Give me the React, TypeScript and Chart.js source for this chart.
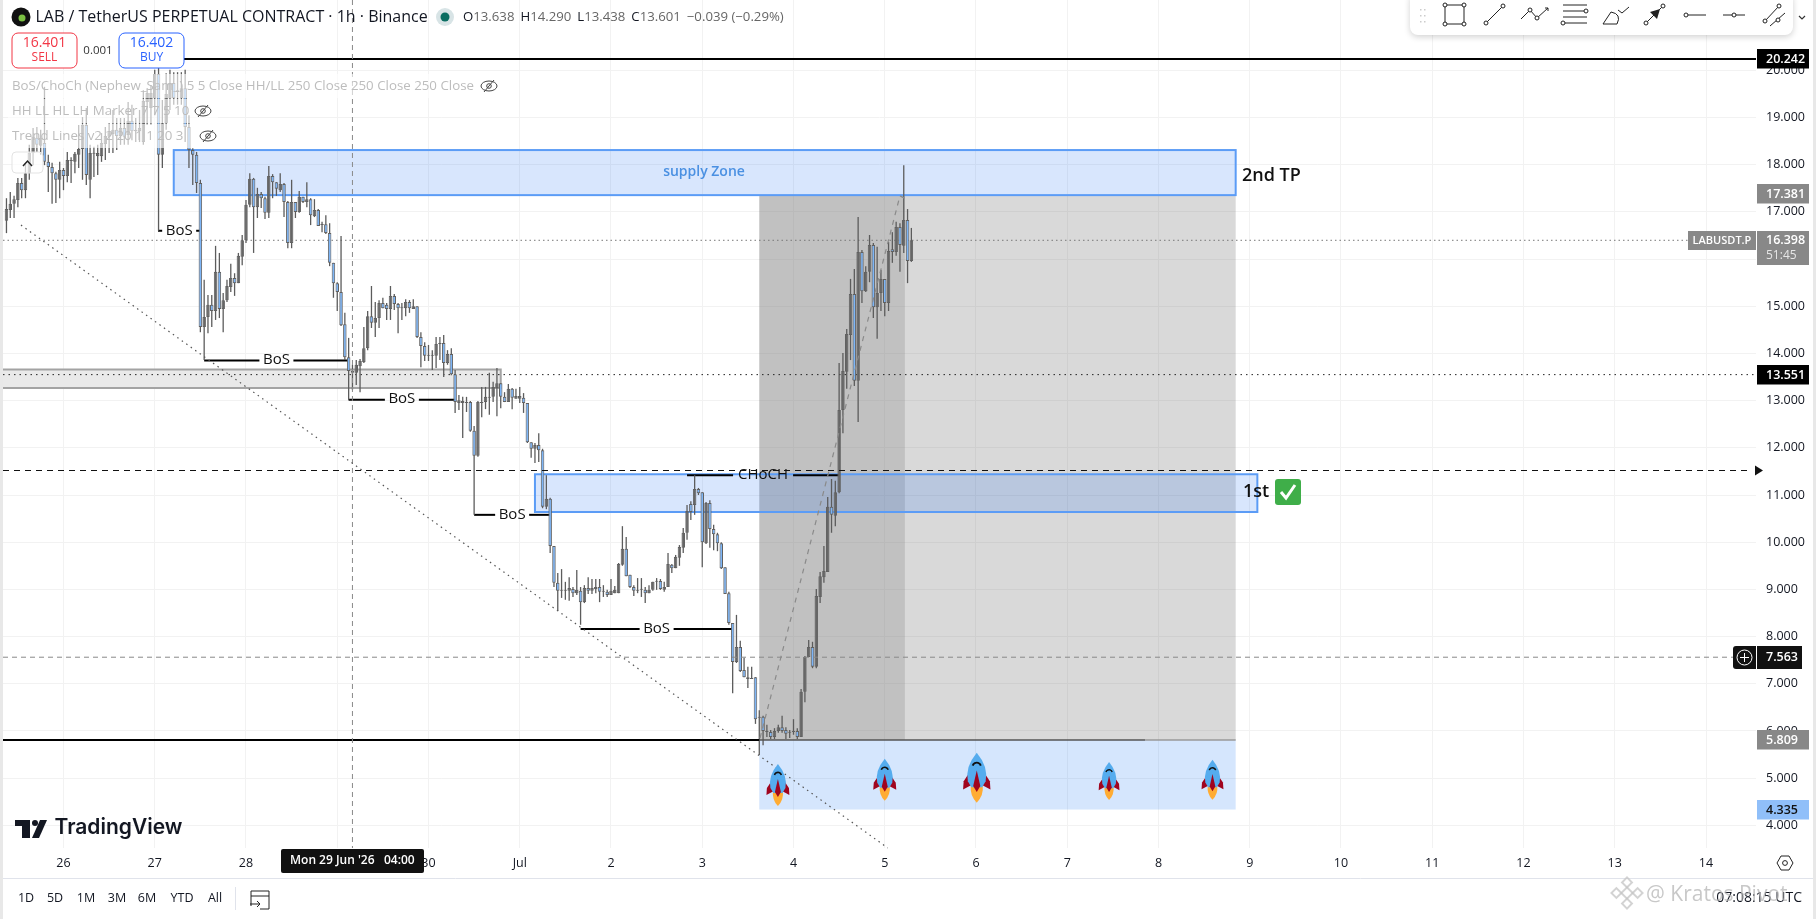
import React, { useEffect, useRef } from "react";
import { Chart, registerables } from "chart.js";

Chart.register(...registerables);

// hourly candles, first hour = 15 h before 26 Jun 00:00
const firstHour = -15;
const opens = [
16.81,17.04,17.17,17.25,17.61,17.46,17.82,18.25,18.57,18.40,
18.46,18.06,17.95,17.82,17.68,17.89,17.76,18.08,18.06,18.21,
18.33,18.84,17.68,18.23,18.18,18.18,18.44,18.59,18.65,18.74,
18.61,18.78,18.63,18.93,18.71,18.71,18.48,19.33,19.20,19.41,
19.92,18.21,18.88,19.41,19.73,19.54,19.41,19.62,18.80,18.31,
18.21,17.61,14.56,14.77,15.03,14.90,15.73,14.94,15.13,15.41,
15.60,15.49,16.05,16.40,17.15,17.70,17.10,17.38,17.29,16.98,
17.76,17.63,17.46,17.59,17.21,16.34,17.21,17.00,17.32,17.21,
17.27,16.91,17.04,16.72,16.74,16.55,15.92,15.49,15.30,14.62,
13.92,13.59,13.59,13.73,13.82,14.11,14.79,14.65,14.75,15.07,
15.03,14.94,15.22,15.05,14.96,14.96,15.09,14.94,15.00,14.35,
14.16,13.95,13.95,13.95,14.20,14.22,13.80,13.99,13.56,12.95,
12.99,12.95,12.97,12.36,11.83,12.95,12.97,13.06,13.08,13.27,
13.37,13.08,12.97,13.25,13.04,13.04,13.06,12.95,12.12,11.98,
12.06,11.95,10.75,10.92,9.92,9.14,8.97,8.97,8.97,9.01,
8.92,8.97,8.73,9.03,8.97,9.01,9.05,8.95,8.95,8.88,
8.92,8.92,9.52,9.86,9.31,9.05,8.97,8.99,8.99,8.92,
8.99,9.16,9.18,8.99,9.05,9.52,9.45,9.67,9.88,10.20,
10.81,10.79,11.13,11.06,9.98,10.83,10.28,10.17,9.98,9.47,
8.92,8.29,7.46,7.78,7.29,7.14,7.10,7.14,6.28,6.30,
5.98,5.98,5.87,6.00,6.08,6.02,5.96,5.98,6.00,5.87,
6.83,7.57,7.78,7.36,8.84,9.26,9.37,10.75,10.56,11.06,
12.80,13.61,14.39,15.26,13.42,16.15,15.32,15.73,16.30,14.98,
15.28,15.58,15.07,16.21,16.15,16.68,16.28,16.83,15.96];
const highs = [
17.29,17.42,17.34,17.72,17.72,18.04,18.42,18.78,18.80,18.74,
19.65,18.21,18.04,17.85,18.06,17.93,18.27,18.16,18.27,18.84,
19.01,19.20,18.42,18.38,18.42,18.67,18.80,18.88,19.16,18.99,
18.99,18.99,19.33,19.27,18.99,19.16,19.58,19.62,19.69,20.01,
20.05,19.37,19.94,20.01,19.96,19.96,19.96,20.01,19.05,18.35,
18.27,17.68,15.56,15.24,15.24,16.28,16.13,15.28,15.56,15.90,
15.70,16.13,16.51,17.25,17.82,17.72,17.51,17.42,17.32,17.97,
17.80,17.63,17.82,17.61,17.23,17.68,17.21,17.44,17.32,17.63,
17.29,17.27,17.06,16.79,16.93,16.76,15.92,15.51,16.49,14.86,
14.33,13.76,13.86,13.88,14.56,14.90,15.43,15.09,15.13,15.18,
15.07,15.43,15.26,15.07,15.07,15.15,15.13,15.15,15.00,14.45,
14.24,14.18,14.07,14.35,14.35,14.39,14.07,14.11,13.65,13.12,
13.08,13.08,12.99,12.46,12.99,13.29,13.29,13.59,13.40,13.69,
13.37,13.18,13.35,13.27,13.25,13.29,13.16,12.95,12.12,12.10,
12.31,11.98,11.42,10.94,9.92,9.35,9.43,9.16,9.26,9.05,
9.41,9.05,9.09,9.26,9.22,9.22,9.22,9.09,8.99,9.22,
9.07,9.56,10.34,10.11,9.31,9.09,9.24,9.24,9.05,9.09,
9.16,9.24,9.22,9.16,9.77,9.54,9.73,9.94,10.30,10.79,
10.87,11.42,11.15,11.06,10.85,10.89,10.37,10.20,10.00,9.47,
8.95,8.29,8.46,7.91,7.55,7.36,7.36,7.14,6.44,6.32,
6.13,6.02,6.06,6.13,6.32,6.08,6.02,6.25,6.06,6.89,
7.59,7.93,7.89,9.01,9.37,9.92,10.96,11.34,11.30,13.80,
14.01,14.52,15.58,15.79,16.89,16.19,15.85,16.51,16.34,16.26,
15.77,15.58,16.36,16.57,16.79,16.76,17.99,17.06,16.66];
const lows = [
16.55,16.87,16.87,17.10,17.29,17.29,17.68,17.99,18.27,18.21,
17.99,17.42,17.17,17.19,17.29,17.46,17.63,17.61,17.82,17.93,
17.68,17.57,17.29,17.74,17.78,18.06,18.10,18.25,18.25,18.31,
18.42,18.42,18.42,18.52,18.48,18.48,18.42,18.84,18.84,19.05,
16.60,17.93,18.74,19.16,19.27,19.27,19.27,18.48,17.93,17.57,
17.40,14.45,13.86,14.43,14.56,14.71,14.75,14.45,15.09,15.30,
15.22,15.49,15.87,16.34,17.10,16.13,16.87,17.08,16.85,16.87,
17.29,17.34,17.42,16.89,16.23,16.23,16.87,16.98,17.19,17.10,
16.72,16.89,16.70,16.57,16.53,15.85,15.18,14.90,14.58,13.86,
13.01,13.23,13.33,13.18,13.80,14.07,14.54,14.35,14.54,14.96,
14.71,14.71,14.92,14.43,14.71,14.79,14.86,14.94,14.33,13.71,
13.84,13.84,13.65,13.69,13.86,13.50,13.76,13.54,12.74,12.80,
12.21,12.76,12.34,10.58,11.81,12.65,12.82,12.70,12.97,12.67,
12.84,12.97,12.97,12.82,13.04,12.95,12.74,12.10,11.79,11.68,
11.70,10.72,10.70,9.77,9.05,8.54,8.82,8.78,8.76,8.84,
8.88,8.25,8.71,8.90,8.90,8.92,8.73,8.84,8.84,8.88,
8.92,8.92,9.50,9.28,9.03,8.86,8.92,8.84,8.71,8.92,
8.97,8.99,8.99,8.95,9.05,9.35,9.45,9.50,9.77,10.05,
10.47,10.58,11.00,9.47,9.96,9.88,9.83,9.81,9.43,8.90,
8.25,6.80,7.44,7.25,7.14,6.91,7.10,6.15,5.49,5.70,
5.87,5.83,5.83,5.96,5.96,5.83,5.85,5.92,5.83,5.87,
6.61,7.57,7.33,7.33,8.71,9.14,9.37,10.20,10.34,11.04,
12.31,13.25,13.86,13.31,12.55,15.07,15.30,15.51,14.75,14.31,
14.90,14.79,14.90,15.92,16.07,15.73,16.13,15.49,15.94];
const closes = [
17.06,17.17,17.27,17.61,17.46,17.82,18.25,18.59,18.42,18.57,
18.06,17.95,17.82,17.68,17.89,17.76,18.10,18.10,18.23,18.33,
18.84,17.78,18.25,18.25,18.25,18.46,18.61,18.69,18.74,18.61,
18.78,18.59,18.93,18.71,18.74,18.78,19.35,19.52,19.52,19.92,
18.21,18.88,19.50,19.73,19.41,19.58,19.62,18.80,18.31,18.21,
17.61,14.56,14.77,15.03,14.90,15.73,14.94,15.13,15.43,15.60,
15.49,16.07,16.40,17.15,17.70,17.10,17.38,17.29,16.98,17.76,
17.63,17.49,17.59,17.21,16.34,17.21,17.00,17.32,17.21,17.27,
16.93,17.04,16.70,16.74,16.55,15.92,15.49,15.30,14.60,13.92,
13.63,13.63,13.76,13.84,14.11,14.79,14.65,14.75,15.07,14.96,
14.94,15.22,15.05,14.96,14.98,15.09,14.96,15.00,14.35,14.16,
13.95,13.97,13.97,14.20,14.22,13.80,13.99,13.56,12.97,13.01,
12.95,12.97,12.36,11.83,12.97,12.97,13.08,13.08,13.29,13.37,
13.08,12.97,13.25,13.06,13.10,13.10,12.95,12.12,11.98,12.06,
11.95,10.75,10.92,9.92,9.14,8.97,8.99,8.99,9.03,8.92,
8.99,8.73,9.03,8.97,9.03,9.05,8.95,8.97,8.88,8.97,
8.99,9.54,9.86,9.28,9.05,8.97,8.99,9.01,8.92,8.99,
9.16,9.18,9.01,9.05,9.54,9.45,9.69,9.90,10.20,10.66,
10.64,11.13,11.04,10.00,10.83,10.28,10.17,9.98,9.45,8.90,
8.29,7.46,7.78,7.27,7.14,7.10,7.12,6.25,6.30,6.00,
6.00,5.87,6.00,6.08,6.00,5.94,5.98,6.00,5.87,6.83,
7.57,7.78,7.36,8.86,9.28,9.39,10.75,10.58,11.06,12.80,
13.63,14.41,15.26,13.42,16.15,15.32,15.73,16.30,14.98,15.28,
15.58,15.07,16.17,16.15,16.68,16.30,16.83,15.96,16.40];

const priceTicks = [4,5,6,7,8,9,10,11,12,13,14,15,16,17,18,19,20];
const dayHours = [0,24,48,72,96,120,144,168,192,216,240,264,288,312,336,360,384,408,432];
const dayLabels = ["26","27","28","29","30","Jul","2","3","4","5","6","7","8","9","10","11","12","13","14"];

const priceLines = { top: 20.242, support: 5.809, mid: 13.551, dashed: 11.52, cursor: 7.563, last: 16.398 };
const supplyZone = { h1: 29, h2: 308.3, v1: 18.31, v2: 17.355 };
const firstTpZone = { h1: 124, h2: 314, v1: 11.44, v2: 10.64 };
const greyBand = { h2: 115, v1: 13.66, v2: 13.27 };
const position = { h1: 183, hMid: 221.3, h2: 308.3, stop: 4.335, entry: 5.809, target: 17.355 };
const bosLines = [
  { h1: 24.85, h2: 36, v: 16.6, text: "BoS" },
  { h1: 37, h2: 75, v: 13.85, text: "BoS" },
  { h1: 75, h2: 103, v: 13.02, text: "BoS" },
  { h1: 108, h2: 128, v: 10.58, text: "BoS" },
  { h1: 136, h2: 176, v: 8.16, text: "BoS" },
  { h1: 164, h2: 204, v: 11.42, text: "CHoCH" },
];
const trendLine = [[-11.18, 16.72], [216.8, 3.52]];
const tradePath = [[183.2, 5.85], [220, 17.34], [222.2, 17.25]];
const crosshairHour = 76;
const rockets = [
  { h: 187.9, v: 5.30, size: 42 }, { h: 216, v: 5.41, size: 42 }, { h: 240.2, v: 5.54, size: 50 },
  { h: 275, v: 5.34, size: 38 }, { h: 302.2, v: 5.39, size: 40 },
];

const UI = "'Open Sans', sans-serif";
const BLUE_LINE = "#5b9cf6";

function txt(c: any, s: string, x: number, y: number, font: string, color: string, align: any = "left") {
  c.font = font; c.fillStyle = color; c.textAlign = align; c.textBaseline = "middle"; c.fillText(s, x, y);
}
function rr(c: any, x: number, y: number, w: number, h: number, r: any) {
  c.beginPath(); c.roundRect(x, y, w, h, r);
}
function seg(c: any, pts: number[][], color: string, w: number, dash: number[] = []) {
  c.save(); c.strokeStyle = color; c.lineWidth = w; c.setLineDash(dash); c.beginPath();
  pts.forEach((p, i) => (i ? c.lineTo(p[0], p[1]) : c.moveTo(p[0], p[1]))); c.stroke(); c.restore();
}
function rocket(c: any, x: number, y: number, H: number) {
  const u = H / 42; c.save(); c.translate(x, y); c.scale(u, u);
  c.fillStyle = "#ffac33"; c.beginPath(); c.moveTo(-5, 27); c.quadraticCurveTo(-6, 36, 0, 42); c.quadraticCurveTo(6, 36, 5, 27); c.fill();
  c.fillStyle = "#a0041e";
  c.beginPath(); c.moveTo(-7, 18); c.lineTo(-11, 24); c.lineTo(-11.5, 31); c.lineTo(-4, 27); c.fill();
  c.beginPath(); c.moveTo(7, 18); c.lineTo(11, 24); c.lineTo(11.5, 31); c.lineTo(4, 27); c.fill();
  c.fillStyle = "#55acee"; c.beginPath(); c.moveTo(0, 0); c.quadraticCurveTo(-10, 12, -7.5, 24); c.lineTo(-4.5, 29); c.lineTo(4.5, 29); c.lineTo(7.5, 24); c.quadraticCurveTo(10, 12, 0, 0); c.fill();
  c.fillStyle = "#a0041e"; c.beginPath(); c.moveTo(0, 15); c.lineTo(-3, 28); c.lineTo(0, 33); c.lineTo(3, 28); c.fill();
  c.strokeStyle = "#111"; c.lineWidth = 1.6; c.beginPath(); c.arc(0, 12, 3.6, Math.PI * 1.1, Math.PI * 1.9); c.stroke();
  c.restore();
}
function eye(c: any, x: number, y: number) {
  c.save(); c.strokeStyle = "#444"; c.lineWidth = 1; c.beginPath(); c.ellipse(x, y, 8, 5, 0, 0, Math.PI * 2); c.stroke();
  c.beginPath(); c.arc(x, y, 2.3, 0, Math.PI * 2); c.stroke();
  c.beginPath(); c.moveTo(x - 5, y + 6); c.lineTo(x + 5, y - 6); c.stroke(); c.restore();
}
function handle(c: any, x: number, y: number) {
  c.beginPath(); c.arc(x, y, 2, 0, Math.PI * 2); c.fillStyle = "#fff"; c.fill(); c.stroke();
}

const backdrop = {
  id: "backdrop",
  beforeDraw(chart: any) {
    const c = chart.ctx; c.save(); c.fillStyle = "#fff"; c.fillRect(0, 0, 1816, 919);
    c.fillStyle = "#e8e8e8"; c.fillRect(0, 0, 3, 919); c.fillRect(1813, 0, 3, 919); c.restore();
  },
};

const zones = {
  id: "zones",
  beforeDatasetsDraw(chart: any) {
    const c = chart.ctx, X = chart.scales.x, Y = chart.scales.y; const a = chart.chartArea;
    const x = (h: number) => X.getPixelForValue(h), y = (v: number) => Y.getPixelForValue(v);
    c.save();
    // grey consolidation band
    c.fillStyle = "#e9e9e9"; c.fillRect(a.left, y(greyBand.v1), x(greyBand.h2) - a.left, y(greyBand.v2) - y(greyBand.v1));
    c.strokeStyle = "#a3a3a3"; c.lineWidth = 2;
    c.beginPath(); c.moveTo(a.left, y(greyBand.v1)); c.lineTo(x(greyBand.h2), y(greyBand.v1)); c.lineTo(x(greyBand.h2), y(greyBand.v2)); c.lineTo(a.left, y(greyBand.v2)); c.stroke();
    // position boxes
    c.fillStyle = "rgba(120,120,120,0.46)"; c.fillRect(x(position.h1), y(position.target), x(position.hMid) - x(position.h1), y(position.entry) - y(position.target));
    c.fillStyle = "rgba(120,120,120,0.28)"; c.fillRect(x(position.hMid), y(position.target), x(position.h2) - x(position.hMid), y(position.entry) - y(position.target));
    c.fillStyle = "rgba(45,130,245,0.2)"; c.fillRect(x(position.h1), y(position.entry), x(position.h2) - x(position.h1), y(position.stop) - y(position.entry));
    // blue zones
    for (const z of [supplyZone, firstTpZone]) {
      c.fillStyle = "rgba(40,115,245,0.18)"; c.fillRect(x(z.h1), y(z.v1), x(z.h2) - x(z.h1), y(z.v2) - y(z.v1));
      c.strokeStyle = BLUE_LINE; c.lineWidth = 2; c.strokeRect(x(z.h1), y(z.v1), x(z.h2) - x(z.h1), y(z.v2) - y(z.v1));
    }
    // BoS markers
    for (const b of bosLines) {
      const x1 = x(b.h1), x2 = x(b.h2), py = y(b.v), mid = (x1 + x2) / 2, gap = b.text === "BoS" ? 17 : 30;
      seg(c, [[x1, py], [mid - gap, py]], "#000", 2); seg(c, [[mid + gap, py], [x2, py]], "#000", 2);
      c.save(); c.beginPath(); c.rect(mid - 40, py - 14, 80, b.text === "BoS" ? 28 : 19); c.clip();
      txt(c, b.text, mid, py - 0.5, "15px " + UI, "#111", "center"); c.restore();
    }
    // lines beneath candles
    seg(c, [[a.left, y(priceLines.mid)], [a.right, y(priceLines.mid)]], "#222", 1, [1.5, 4]);
    seg(c, [[a.left, y(priceLines.last)], [1688, y(priceLines.last)]], "#777", 1, [1.5, 3]);
    c.restore();
  },
  afterDatasetsDraw(chart: any) {
    const c = chart.ctx, X = chart.scales.x, Y = chart.scales.y; const a = chart.chartArea;
    const x = (h: number) => X.getPixelForValue(h), y = (v: number) => Y.getPixelForValue(v);
    c.save();
    // price lines
    seg(c, [[184, y(priceLines.top)], [a.right, y(priceLines.top)]], "#000", 2);
    seg(c, [[a.left, y(priceLines.support)], [x(position.h1), y(priceLines.support)]], "#000", 2);
    seg(c, [[x(position.h1), y(priceLines.support)], [1145, y(priceLines.support)]], "#555", 1.5);
    seg(c, [[1145, y(priceLines.support)], [x(position.h2), y(priceLines.support)]], "#999", 1.5);
    seg(c, [[a.left, y(priceLines.dashed)], [1752, y(priceLines.dashed)]], "#111", 1.2, [6, 5]);
    seg(c, [[a.left, y(priceLines.cursor)], [1733, y(priceLines.cursor)]], "#888", 1, [5, 4]);
    seg(c, [[x(crosshairHour), 0], [x(crosshairHour), a.bottom]], "#888", 1, [5, 4]);
    seg(c, trendLine.map((p) => [x(p[0]), y(p[1])]), "#555", 1.2, [1.5, 4]);
    seg(c, tradePath.map((p) => [x(p[0]), y(p[1])]), "#8a8a8a", 1.2, [5, 5]);
    // rockets
    rockets.forEach((r) => rocket(c, x(r.h), y(r.v), r.size));
    // zone annotations
    txt(c, "supply Zone", 704, 172, "600 14px " + UI, "#4a90e2", "center");
    txt(c, "2nd TP", 1242, 176, "600 18px " + UI, "#111");
    txt(c, "1st", 1243, 492, "600 18px " + UI, "#111");
    c.fillStyle = "#3fae49"; rr(c, 1275, 479, 26, 26, 3); c.fill();
    seg(c, [[1281, 492], [1286, 498], [1295, 485]], "#fff", 3);

    // faded legend rows
    c.fillStyle = "rgba(255,255,255,0.62)";
    c.fillRect(8, 74, 497, 24); c.fillRect(8, 99, 210, 24); c.fillRect(8, 124, 215, 24);
    const faded = "13.3px " + UI;
    txt(c, "BoS/ChoCh (Nephew_Sam_) 5 5 Close HH/LL 250 Close 250 Close 250 Close", 12, 86, faded, "#bdbdbd");
    txt(c, "HH LL HL LH Marker 7 7 5 10", 12, 111, faded, "#bdbdbd");
    txt(c, "Trend Lines v2 2 20 1 1 20 3", 12, 136, faded, "#bdbdbd");
    eye(c, 489, 86); eye(c, 203, 111); eye(c, 208, 136);
    c.fillStyle = "rgba(255,255,255,0.7)"; rr(c, 12, 152, 31, 21, 4); c.fill(); c.strokeStyle = "#e3e3e3"; c.lineWidth = 1; c.stroke();
    seg(c, [[23, 166], [27.5, 161], [32, 166]], "#222", 1.5);

    // title row
    c.fillStyle = "#111"; c.beginPath(); c.arc(21, 17, 9.5, 0, Math.PI * 2); c.fill();
    c.fillStyle = "#7bc043"; c.beginPath(); c.arc(22, 18, 3.5, 0, Math.PI * 2); c.fill();
    txt(c, "LAB / TetherUS PERPETUAL CONTRACT · 1h · Binance", 35.5, 17, "16px " + UI, "#131722");
    c.fillStyle = "#d8e4e6"; c.beginPath(); c.arc(445, 17, 9, 0, Math.PI * 2); c.fill();
    c.fillStyle = "#0b6e62"; c.beginPath(); c.arc(445, 17, 4.5, 0, Math.PI * 2); c.fill();
    let ox = 463;
    for (const [k, v] of [["O", "13.638"], ["H", "14.290"], ["L", "13.438"], ["C", "13.601"]]) {
      txt(c, k, ox, 17, "13.2px " + UI, "#131722"); ox += c.measureText(k).width;
      txt(c, v, ox, 17, "13.2px " + UI, "#666"); ox += c.measureText(v).width + 6;
    }
    txt(c, "−0.039 (−0.29%)", ox, 17, "13.2px " + UI, "#666");

    // buy / sell
    c.fillStyle = "#fff"; rr(c, 12, 33, 65, 35, 6); c.fill(); c.strokeStyle = "#f23645"; c.lineWidth = 1; c.stroke();
    txt(c, "16.401", 44.5, 43, "14px " + UI, "#f23645", "center"); txt(c, "SELL", 44.5, 58, "12px " + UI, "#f23645", "center");
    txt(c, "0.001", 98, 51, "11.5px " + UI, "#333", "center");
    c.fillStyle = "#fff"; rr(c, 119, 33, 65, 35, 6); c.fill(); c.strokeStyle = "#2962ff"; c.stroke();
    txt(c, "16.402", 151.5, 43, "14px " + UI, "#2962ff", "center"); txt(c, "BUY", 151.5, 58, "12px " + UI, "#2962ff", "center");

    // TradingView mark
    c.fillStyle = "#131722"; c.fillRect(15, 820, 15, 6); c.fillRect(22, 820, 8, 18);
    c.beginPath(); c.arc(35, 823, 3, 0, Math.PI * 2); c.fill();
    c.beginPath(); c.moveTo(40, 820); c.lineTo(47, 820); c.lineTo(39, 838); c.lineTo(32, 838); c.fill();
    txt(c, "TradingView", 54.5, 828, "600 21px Inter, " + UI, "#131722");

    // drawing toolbar
    c.save(); c.shadowColor = "rgba(0,0,0,0.18)"; c.shadowBlur = 6; c.shadowOffsetY = 2; c.fillStyle = "#fff"; rr(c, 1410, -8, 383, 43, 8); c.fill(); c.restore();
    c.fillStyle = "#ccc"; for (const dy of [9, 15, 21]) for (const dx of [1420, 1424]) c.fillRect(dx, dy, 1.5, 1.5);
    c.strokeStyle = "#222"; c.lineWidth = 1;
    c.strokeRect(1445, 5, 19, 19); [[1445, 5], [1464, 5], [1445, 24], [1464, 24]].forEach((p) => handle(c, p[0], p[1]));
    c.beginPath(); c.moveTo(1486, 23); c.lineTo(1503, 6); c.stroke(); handle(c, 1486, 23); handle(c, 1503, 6);
    c.beginPath(); c.moveTo(1521, 19); c.lineTo(1530, 10); c.lineTo(1537, 18); c.lineTo(1548, 8); c.stroke(); handle(c, 1530, 10); handle(c, 1537, 18);
    c.beginPath(); c.moveTo(1545, 8); c.lineTo(1548, 8); c.lineTo(1548, 11); c.stroke();
    for (const ly of [5, 11, 17, 23]) { c.beginPath(); c.moveTo(1563, ly); c.lineTo(1587, ly); c.stroke(); }
    handle(c, 1586, 11); handle(c, 1563, 23);
    c.beginPath(); c.moveTo(1603, 24); c.lineTo(1611, 12); c.quadraticCurveTo(1622, 14, 1617, 24); c.closePath(); c.stroke();
    c.beginPath(); c.moveTo(1618, 10); c.lineTo(1622, 13); c.lineTo(1629, 7); c.stroke();
    c.beginPath(); c.moveTo(1646, 23); c.lineTo(1663, 6); c.stroke(); handle(c, 1646, 23); handle(c, 1663, 6);
    c.fillStyle = "#222"; c.beginPath(); c.moveTo(1660, 9); c.lineTo(1650, 12); c.lineTo(1657, 19); c.fill();
    c.beginPath(); c.moveTo(1686, 15); c.lineTo(1706, 15); c.stroke(); handle(c, 1686, 15);
    c.beginPath(); c.moveTo(1723, 15); c.lineTo(1745, 15); c.stroke(); handle(c, 1734, 15);
    c.beginPath(); c.moveTo(1765, 21); c.lineTo(1779, 6); c.stroke(); c.beginPath(); c.moveTo(1770, 26); c.lineTo(1785, 13); c.stroke();
    handle(c, 1765, 21); handle(c, 1779, 6); handle(c, 1778, 20);
    seg(c, [[1799, 16], [1802, 19], [1805, 16]], "#333", 1.2);
    c.restore();
  },
  afterDraw(chart: any) {
    const c = chart.ctx, Y = chart.scales.y; const y = (v: number) => Y.getPixelForValue(v);
    c.save();
    const tick = "600 12.5px " + UI;
    const tag = (v: number, s: string, bg: string, fg: string, w = 52) => {
      const py = Math.round(y(v)); c.fillStyle = bg; c.fillRect(1757, py - 10, w, 19.5);
      txt(c, s, 1766, py, tick, fg);
    };
    // dashed-line arrow
    const ay = y(priceLines.dashed);
    c.fillStyle = "#111"; c.beginPath(); c.moveTo(1763, ay); c.lineTo(1755, ay - 5); c.lineTo(1755, ay + 5); c.fill();
    tag(priceLines.top, "20.242", "#000", "#fff");
    tag(17.381, "17.381", "#888", "#fff");
    tag(priceLines.mid, "13.551", "#000", "#fff");
    tag(priceLines.support, "5.809", "#888", "#fff");
    tag(position.stop, "4.335", "#90bff9", "#111");
    // last price
    c.fillStyle = "#888"; c.fillRect(1688, 231, 68, 19); c.fillRect(1757, 231, 52, 34);
    txt(c, "LABUSDT.P", 1722, 240.5, "600 11px " + UI, "#fff", "center");
    txt(c, "16.398", 1766, 240.5, tick, "#fff"); txt(c, "51:45", 1766, 256, "12px " + UI, "#e6e6e6");
    // cursor price
    c.fillStyle = "#111"; rr(c, 1733, 646, 23, 23, [3, 0, 0, 3]); c.fill(); c.fillRect(1757, 646, 45, 23);
    txt(c, "7.563", 1766, 657.5, tick, "#fff");
    c.strokeStyle = "#fff"; c.lineWidth = 1; c.beginPath(); c.arc(1744.5, 657.5, 7.5, 0, Math.PI * 2); c.stroke();
    seg(c, [[1740, 657.5], [1749, 657.5]], "#fff", 1); seg(c, [[1744.5, 653], [1744.5, 662]], "#fff", 1);
    // time cursor
    c.fillStyle = "#111"; rr(c, 281, 849, 143, 24, 2); c.fill();
    txt(c, "Mon 29 Jun '26", 290, 861, "600 12px " + UI, "#fff");
    txt(c, "04:00", 384, 861, "600 12px " + UI, "#fff");
    // settings hexagon
    c.strokeStyle = "#222"; c.lineWidth = 1; c.beginPath();
    [[1777, 863], [1781, 856], [1789, 856], [1793, 863], [1789, 870], [1781, 870]].forEach((p, i) => (i ? c.lineTo(p[0], p[1]) : c.moveTo(p[0], p[1])));
    c.closePath(); c.stroke(); c.beginPath(); c.arc(1785, 863, 2.4, 0, Math.PI * 2); c.stroke();
    // footer
    seg(c, [[3, 878.5], [1813, 878.5]], "#e0e3eb", 1);
    const ranges: [string, number][] = [["1D", 26], ["5D", 55], ["1M", 86], ["3M", 117], ["6M", 147], ["YTD", 182], ["All", 215]];
    ranges.forEach(([s, px]) => txt(c, s, px, 898, "12.5px " + UI, "#131722", "center"));
    seg(c, [[235.5, 887], [235.5, 910]], "#e0e3eb", 1);
    c.strokeStyle = "#222"; c.beginPath(); c.moveTo(251, 906); c.lineTo(251, 891); c.lineTo(269, 891); c.lineTo(269, 909); c.lineTo(260, 909); c.stroke();
    seg(c, [[251, 896], [269, 896]], "#222", 1); seg(c, [[250, 904], [260, 904]], "#222", 1); seg(c, [[257, 901], [260, 904], [257, 907]], "#222", 1);
    txt(c, "07:08:15 UTC", 1802, 898, "14px " + UI, "#131722", "right");
    // watermark
    c.globalAlpha = 0.75;
    c.strokeStyle = "#c4c4c4"; c.lineWidth = 2;
    c.save(); c.translate(1627, 893); c.rotate(Math.PI / 4); c.strokeRect(-4, -4, 8, 8); c.strokeRect(-11, 4, 7, 7); c.strokeRect(4, -11, 7, 7); c.strokeRect(-11, -11, 7, 7); c.strokeRect(4, 4, 7, 7); c.restore();
    txt(c, "@ Kratos Pivot", 1646, 895, "21px " + UI, "#b5b5b5");
    c.restore();
  },
};

export default function App() {
  const ref = useRef<HTMLCanvasElement | null>(null);
  useEffect(() => {
    const hours = opens.map((_, i) => firstHour + i);
    const wicks = hours.map((h, i) => ({ x: h, y: [lows[i], highs[i]] }));
    const bodies = hours.map((h, i) => ({ x: h, y: [opens[i], closes[i]] }));
    const fills = hours.map((_, i) => (closes[i] >= opens[i] ? "#666666" : "#7db5f6"));
    const chart = new Chart(ref.current as HTMLCanvasElement, {
      type: "bar",
      data: {
        datasets: [
          { label: "wick", data: wicks, barThickness: 1.3, backgroundColor: "#5c5c5c", grouped: false, order: 2, inflateAmount: 0 } as any,
          { label: "body", data: bodies, barThickness: 3.5, backgroundColor: fills, borderColor: "#616161", borderWidth: 1, borderSkipped: false, minBarLength: 1, grouped: false, order: 1, inflateAmount: 0 } as any,
        ],
      },
      options: {
        responsive: false,
        animation: false,
        devicePixelRatio: 1,
        layout: { padding: { left: 3, right: 0, top: 0, bottom: 41 } },
        plugins: { legend: { display: false }, tooltip: { enabled: false }, title: { display: false } },
        scales: {
          x: {
            type: "linear", offset: false, position: "bottom", min: -15.91, max: 445.15,
            grid: { color: "#f2f2f2", offset: false, drawTicks: false } as any,
            border: { display: false },
            afterBuildTicks: (s: any) => { s.ticks = dayHours.map((value) => ({ value })); },
            afterFit: (s: any) => { s.height = 30; s.paddingLeft = 0; s.paddingRight = 0; },
            ticks: {
              autoSkip: false, maxRotation: 0, padding: 8, color: "#131722", font: { family: "'Open Sans'", size: 12.5 },
              callback: (v: any) => dayLabels[dayHours.indexOf(Number(v))],
            },
          },
          y: {
            type: "linear", position: "right", min: 3.52, max: 21.49,
            grid: { color: "#f2f2f2", drawTicks: false },
            border: { display: false },
            afterBuildTicks: (s: any) => { s.ticks = priceTicks.map((value) => ({ value })); },
            afterFit: (s: any) => { s.width = 60; s.paddingTop = 0; s.paddingBottom = 0; },
            ticks: {
              padding: 10, color: "#131722", font: { family: "'Open Sans'", size: 12.5 },
              callback: (v: any) => Number(v).toFixed(3),
            },
          },
        },
      } as any,
      plugins: [backdrop, zones] as any,
    } as any);
    return () => chart.destroy();
  }, []);
  return (
    <div style={{ position: "fixed", left: 0, top: 0, width: 1816, height: 919, background: "#fff" }}>
      <canvas ref={ref} width={1816} height={919} style={{ display: "block", width: 1816, height: 919 }} />
    </div>
  );
}
